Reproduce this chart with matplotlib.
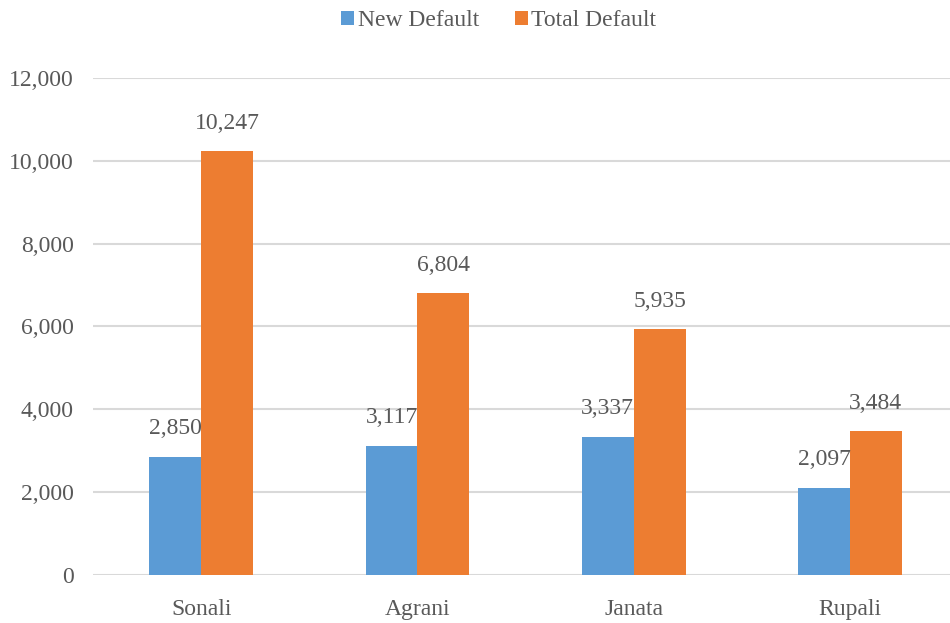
import numpy as np
import matplotlib.pyplot as plt

banks = ["Sonali", "Agrani", "Janata", "Rupali"]
new_default = [2850, 3117, 3337, 2097]
total_default = [10247, 6804, 5935, 3484]

plt.rcParams['font.family'] = ['Liberation Serif', 'DejaVu Serif']
grey = '#595959'
fs = 17

fig = plt.figure(figsize=(9.5, 6.23), dpi=100)
ax = fig.add_axes([0.098, 0.077, 0.9105, 0.798])

x = np.arange(len(banks))
w = 0.24
b1 = ax.bar(x - w/2, new_default, w, color='#5B9BD5', label='New Default', zorder=3)
b2 = ax.bar(x + w/2, total_default, w, color='#ED7D31', label='Total Default', zorder=3)

ax.bar_label(b1, labels=[f"{v:,}" for v in new_default], padding=13, fontsize=fs, color=grey)
ax.bar_label(b2, labels=[f"{v:,}" for v in total_default], padding=12, fontsize=fs, color=grey)

ax.set_ylim(0, 12000)
ax.set_xlim(-0.5, 3.5)
ax.set_yticks(range(0, 12001, 2000))
ax.set_yticklabels([f"{v:,}" for v in range(0, 12001, 2000)])
ax.set_xticks(x)
ax.set_xticklabels(banks)
ax.tick_params(length=0, labelsize=fs, labelcolor=grey)
ax.tick_params(axis='x', pad=17)
ax.tick_params(axis='y', pad=14)
ax.grid(axis='y', color='#d9d9d9', linewidth=1.5, zorder=0)
for s in ax.spines.values():
    s.set_visible(False)

leg = fig.legend(loc='upper center', bbox_to_anchor=(0.525, 1.018), ncol=2, frameon=False,
                 fontsize=fs, handlelength=0.55, handleheight=0.55, handletextpad=0.15,
                 columnspacing=1.5)
for t in leg.get_texts():
    t.set_color(grey)

fig.savefig('out.png', dpi=100)
